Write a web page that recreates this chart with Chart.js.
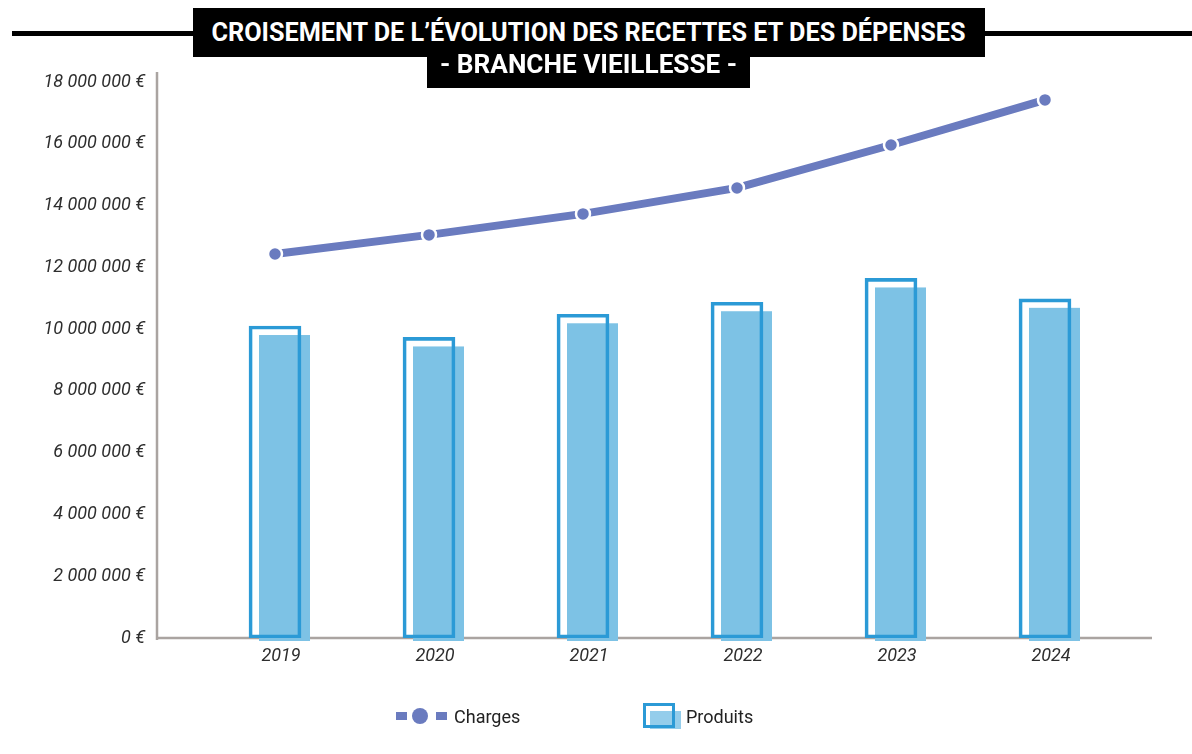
<!DOCTYPE html>
<html lang="fr">
<head>
<meta charset="utf-8">
<title>Croisement de l'évolution des recettes et des dépenses - branche vieillesse</title>
<script src="https://cdn.jsdelivr.net/npm/chart.js@4/dist/chart.umd.min.js"></script>
<style>
  html, body { margin: 0; padding: 0; background: #fff; }
  #wrap { position: relative; width: 1192px; height: 754px; overflow: hidden; font-family: Roboto, "DejaVu Sans", sans-serif; }
  #chart { position: absolute; left: 0; top: 0; }
  .rule { position: absolute; left: 12px; right: 0; top: 31px; height: 5px; background: #000; }
  .box { position: absolute; background: #000; color: #fff; font-weight: 700; font-size: 26px; line-height: 1; white-space: nowrap; text-align: center; }
  .box span { display: inline-block; transform-origin: center center; }
  #box1 { left: 193px; top: 8px; width: 792px; height: 49px; }
  #box1 span { margin-top: 11px; }
  #box2 { left: 427px; top: 50px; width: 323px; height: 38px; }
  #box2 span { margin-top: 1px; }
  .legend-item { position: absolute; top: 703px; height: 28px; font-size: 18px; color: #222; }
  .legend-item .txt { position: absolute; top: 3px; white-space: nowrap; }
</style>
</head>
<body>
<div id="wrap">
  <canvas id="chart" width="1192" height="754"></canvas>
  <div class="rule"></div>
  <div class="box" id="box1"><span data-fit="754">CROISEMENT DE L’ÉVOLUTION DES RECETTES ET DES DÉPENSES</span></div>
  <div class="box" id="box2"><span data-fit="297">- BRANCHE VIEILLESSE -</span></div>

  <div class="legend-item" style="left:396px;width:140px;">
    <div style="position:absolute;left:0;top:9px;width:11px;height:8px;background:#6a7bbf;"></div>
    <div style="position:absolute;left:16px;top:5px;width:16px;height:16px;border-radius:50%;background:#6a7bbf;"></div>
    <div style="position:absolute;left:40px;top:9px;width:11px;height:8px;background:#6a7bbf;"></div>
    <div class="txt" style="left:58px;">Charges</div>
  </div>
  <div class="legend-item" style="left:643px;width:140px;">
    <div style="position:absolute;left:7px;top:8px;width:31px;height:18px;background:#94cdeb;"></div>
    <div style="position:absolute;left:0;top:0;width:26px;height:19px;border:3px solid #2b9ad6;"></div>
    <div class="txt" style="left:43px;">Produits</div>
  </div>
</div>

<script>
// Branche vieillesse, montants annuels en euros
const years = ['2019', '2020', '2021', '2022', '2023', '2024'];
const charges = [12430000, 13050000, 13730000, 14570000, 15960000, 17420000];
const produits = [10100000, 9730000, 10480000, 10870000, 11640000, 10980000];
const yMax = 18000000;
const yStep = 2000000;

const chargesColor = '#6a7bbf';
const produitsBorder = '#2b9ad6';
const produitsFill = '#7dc2e5';

// squeeze the title lines to the width of their boxes
document.querySelectorAll('[data-fit]').forEach(el => {
  const target = Number(el.dataset.fit);
  el.style.transform = 'scaleX(' + (target / el.offsetWidth) + ')';
});

function formatEuro(v) {
  return String(v).replace(/\B(?=(\d{3})+(?!\d))/g, ' ') + ' €';
}

// grey axis lines and the offset light-blue block behind each outlined bar
const axesAndShadow = {
  id: 'axesAndShadow',
  beforeDatasetsDraw(chart) {
    const ctx = chart.ctx;
    const area = chart.chartArea;
    ctx.save();
    ctx.strokeStyle = '#aaa4a1';
    ctx.lineWidth = 2.5;
    ctx.beginPath();
    ctx.moveTo(area.left - 41, area.top - 10);
    ctx.lineTo(area.left - 41, area.bottom + 2);
    ctx.moveTo(area.left - 42, area.bottom);
    ctx.lineTo(area.right + 30, area.bottom);
    ctx.stroke();

    const meta = chart.getDatasetMeta(1);
    ctx.fillStyle = produitsFill;
    meta.data.forEach(bar => {
      const p = bar.getProps(['x', 'y', 'width', 'base'], true);
      const top = p.y + 9;
      ctx.fillRect(p.x - p.width / 2 + 10, top, p.width - 1, p.base + 3 - top);
    });
    ctx.restore();
  }
};

const tickFont = { family: 'Roboto', size: 18, style: 'italic' };

new Chart(document.getElementById('chart'), {
  data: {
    labels: years,
    datasets: [
      {
        type: 'line',
        label: 'Charges',
        data: charges,
        order: 0,
        borderColor: chargesColor,
        borderWidth: 8,
        pointRadius: 7,
        pointBackgroundColor: chargesColor,
        pointBorderColor: '#fff',
        pointBorderWidth: 2.5,
        tension: 0
      },
      {
        type: 'bar',
        label: 'Produits',
        data: produits,
        order: 1,
        backgroundColor: 'rgba(0,0,0,0)',
        borderColor: produitsBorder,
        borderWidth: 3,
        borderSkipped: false,
        barThickness: 52
      }
    ]
  },
  options: {
    responsive: false,
    animation: false,
    devicePixelRatio: 1,
    layout: { padding: { left: 0, right: 70, top: 82, bottom: 0 } },
    plugins: {
      legend: { display: false },
      tooltip: { enabled: false }
    },
    scales: {
      x: {
        offset: true,
        border: { display: false },
        grid: { display: false, drawTicks: false },
        ticks: { font: tickFont, color: '#2e2e2e', padding: 8, labelOffset: 6 },
        afterFit(scale) { scale.height = 116; }
      },
      y: {
        min: 0,
        max: yMax,
        border: { display: false },
        grid: { display: false, drawTicks: false },
        ticks: {
          stepSize: yStep,
          font: tickFont,
          color: '#2e2e2e',
          padding: 53,
          callback: v => formatEuro(v)
        },
        afterFit(scale) { scale.width = 198; }
      }
    }
  },
  plugins: [axesAndShadow]
});
</script>
</body>
</html>
